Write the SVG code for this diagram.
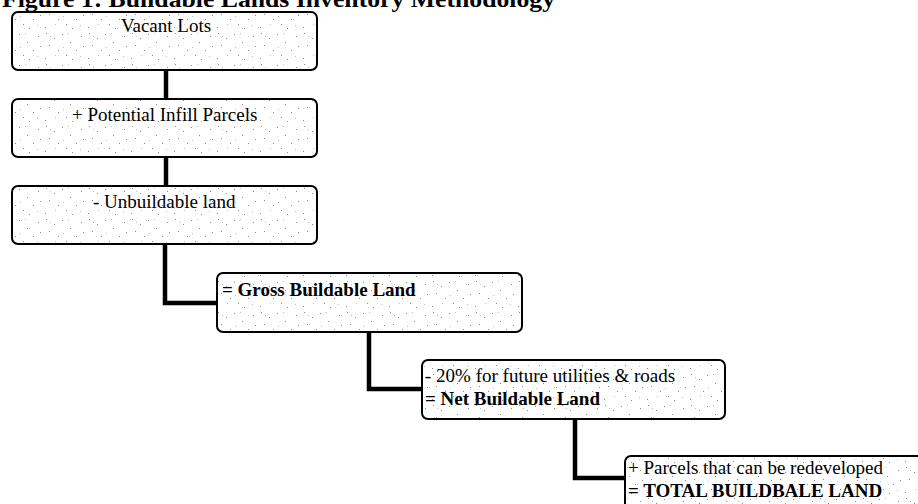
<svg xmlns="http://www.w3.org/2000/svg" width="918" height="504" viewBox="0 0 918 504">
<defs>
<pattern id="stip" width="43" height="31" patternUnits="userSpaceOnUse">
<rect width="43" height="31" fill="#ffffff"/>
<g fill="#8a8a8a">
<rect x="3" y="2" width="1" height="1"/><rect x="11" y="7" width="1" height="1"/><rect x="19" y="3" width="1" height="1"/><rect x="27" y="11" width="1" height="1"/><rect x="38" y="5" width="1" height="1"/><rect x="6" y="14" width="1" height="1"/><rect x="15" y="19" width="1" height="1"/><rect x="23" y="24" width="1" height="1"/><rect x="33" y="19" width="1" height="1"/><rect x="2" y="27" width="1" height="1"/><rect x="29" y="28" width="1" height="1"/><rect x="40" y="15" width="1" height="1"/>
</g>
<g fill="#c0c0c0">
<rect x="7" y="5" width="1" height="1"/><rect x="25" y="2" width="1" height="1"/><rect x="20" y="16" width="1" height="1"/><rect x="37" y="25" width="1" height="1"/><rect x="12" y="24" width="1" height="1"/>
</g>
</pattern>
<style>
.box{fill:url(#stip);stroke:#000;stroke-width:2}
.t{font-family:"Liberation Serif","Times New Roman",serif;font-size:19px;fill:#000}
.b{font-weight:bold}
.con{fill:none;stroke:#000;stroke-width:4.5;stroke-linejoin:miter}
</style>
</defs>
<text x="2" y="7" class="t b" style="font-size:24px" textLength="553" lengthAdjust="spacingAndGlyphs">Figure 1: Buildable Lands Inventory Methodology</text>
<g id="connectors">
<path class="con" d="M166 70 V99"/>
<path class="con" d="M166 157 V186"/>
<path class="con" d="M165 244 V303 H217"/>
<path class="con" d="M369 332 V389 H422"/>
<path class="con" d="M575 419 V478 H625"/>
</g>
<g id="vacant">
<rect class="box" x="12" y="12" width="305" height="58" rx="6"/>
<text class="t" x="166" y="32" text-anchor="middle">Vacant Lots</text>
</g>
<g id="infill">
<rect class="box" x="12" y="99" width="305" height="58" rx="6"/>
<text class="t" x="72" y="121">+ Potential Infill Parcels</text>
</g>
<g id="unbuildable">
<rect class="box" x="12" y="186" width="305" height="58" rx="6"/>
<text class="t" x="93" y="208">- Unbuildable land</text>
</g>
<g id="gross">
<rect class="box" x="217" y="273" width="305" height="59" rx="6"/>
<text class="t b" x="222" y="296">= Gross Buildable Land</text>
</g>
<g id="net">
<rect class="box" x="422" y="360" width="303" height="59" rx="6"/>
<text class="t" x="425" y="382">- 20% for future utilities &amp; roads</text>
<text class="t b" x="425" y="405">= Net Buildable Land</text>
</g>
<g id="total">
<rect class="box" x="625" y="456" width="305" height="60" rx="6"/>
<text class="t" x="628" y="474">+ Parcels that can be redeveloped</text>
<text class="t b" x="628" y="497">= TOTAL BUILDBALE LAND</text>
</g>
</svg>
